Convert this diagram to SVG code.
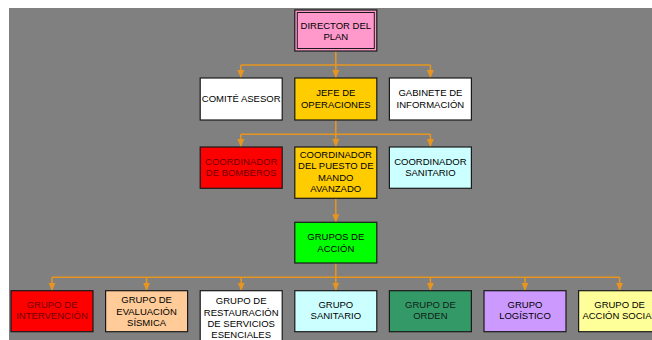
<svg xmlns="http://www.w3.org/2000/svg" width="652" height="340" viewBox="0 0 652 340">
<style>
.box{stroke:#1a1a1a;stroke-width:1.2}
.t{font-family:"Liberation Sans",Arial,sans-serif;font-size:9.5px;text-anchor:middle;fill:#000}
.c{fill:none;stroke:#E8951F;stroke-width:1.5}
</style>
<defs>
<marker id="ah" markerUnits="userSpaceOnUse" markerWidth="8" markerHeight="8" viewBox="0 0 8 8" refX="8" refY="4" orient="auto">
<path d="M0,0.5 L8,4 L0,7.5 Z" fill="#E8951F"/>
</marker>
</defs>
<rect x="0" y="0" width="652" height="340" fill="#fff"/>
<rect x="9" y="8" width="643" height="332" fill="#808080"/>

<g id="connectors">
<path class="c" d="M335.8,51 V65 M240.8,65 H430.4"/>
<path class="c" d="M240.8,65 V78" marker-end="url(#ah)"/>
<path class="c" d="M335.8,65 V78" marker-end="url(#ah)"/>
<path class="c" d="M430.4,65 V78" marker-end="url(#ah)"/>
<path class="c" d="M335.8,120 V134.3 M240.8,134.3 H430.4"/>
<path class="c" d="M240.8,134.3 V147" marker-end="url(#ah)"/>
<path class="c" d="M335.8,134.3 V147" marker-end="url(#ah)"/>
<path class="c" d="M430.4,134.3 V147" marker-end="url(#ah)"/>
<path class="c" d="M335.8,198.3 V222.3" marker-end="url(#ah)"/>
<path class="c" d="M335.8,263 V277.3 M52,277.3 H619.6"/>
<path class="c" d="M52,277.3 V290.7" marker-end="url(#ah)"/>
<path class="c" d="M146.6,277.3 V290.7" marker-end="url(#ah)"/>
<path class="c" d="M241.2,277.3 V290.7" marker-end="url(#ah)"/>
<path class="c" d="M335.8,277.3 V290.7" marker-end="url(#ah)"/>
<path class="c" d="M430.4,277.3 V290.7" marker-end="url(#ah)"/>
<path class="c" d="M525,277.3 V290.7" marker-end="url(#ah)"/>
<path class="c" d="M619.6,277.3 V290.7" marker-end="url(#ah)"/>
</g>

<g id="director">
<rect class="box" x="294.8" y="10" width="82" height="41" fill="#FF99CC"/>
<rect x="297.3" y="12.5" width="77" height="36" fill="none" stroke="#1a1a1a" stroke-width="1"/>
<text class="t" x="335.8" y="28.5">DIRECTOR DEL<tspan x="335.8" y="39.7">PLAN</tspan></text>
</g>

<g id="comite">
<rect class="box" x="200.2" y="78" width="82" height="42" fill="#fff"/>
<text class="t" x="241.2" y="102">COMITÉ ASESOR</text>
</g>
<g id="jefe">
<rect class="box" x="294.8" y="78" width="82" height="42" fill="#FFCC00"/>
<text class="t" x="335.8" y="96.2">JEFE DE<tspan x="335.8" y="107.5">OPERACIONES</tspan></text>
</g>
<g id="gabinete">
<rect class="box" x="389.4" y="78" width="82" height="42" fill="#fff"/>
<text class="t" x="430.4" y="96.2">GABINETE DE<tspan x="430.4" y="107.5">INFORMACIÓN</tspan></text>
</g>

<g id="bomberos">
<rect class="box" x="200.2" y="147" width="82" height="41.3" fill="#FF0000"/>
<text class="t" x="241.2" y="165" style="fill:#700000">COORDINADOR<tspan x="241.2" y="176.3">DE BOMBEROS</tspan></text>
</g>
<g id="puesto">
<rect class="box" x="294.8" y="147" width="82" height="51.3" fill="#FFCC00"/>
<text class="t" x="335.8" y="157.8">COORDINADOR<tspan x="335.8" y="169.3">DEL PUESTO DE</tspan><tspan x="335.8" y="180.8">MANDO</tspan><tspan x="335.8" y="192.3">AVANZADO</tspan></text>
</g>
<g id="sanitario">
<rect class="box" x="389.4" y="147" width="82" height="41.3" fill="#CCFFFF"/>
<text class="t" x="430.4" y="165">COORDINADOR<tspan x="430.4" y="176.3">SANITARIO</tspan></text>
</g>

<g id="grupos-accion">
<rect class="box" x="294.8" y="222.3" width="82" height="40.7" fill="#00FF00"/>
<text class="t" x="335.8" y="240">GRUPOS DE<tspan x="335.8" y="251.6">ACCIÓN</tspan></text>
</g>

<g id="intervencion">
<rect class="box" x="11" y="290.7" width="82" height="41" fill="#FF0000"/>
<text class="t" x="52" y="307.7" style="fill:#700000">GRUPO DE<tspan x="52" y="319.3">INTERVENCIÓN</tspan></text>
</g>
<g id="evaluacion">
<rect class="box" x="105.6" y="290.7" width="82" height="41" fill="#FFCC99"/>
<text class="t" x="146.6" y="303.4">GRUPO DE<tspan x="146.6" y="314.7">EVALUACIÓN</tspan><tspan x="146.6" y="326">SÍSMICA</tspan></text>
</g>
<g id="restauracion">
<rect class="box" x="200.2" y="290.7" width="82" height="55" fill="#fff"/>
<text class="t" x="241.2" y="304.4">GRUPO DE<tspan x="241.2" y="315.7">RESTAURACIÓN</tspan><tspan x="241.2" y="327">DE SERVICIOS</tspan><tspan x="241.2" y="338.3">ESENCIALES</tspan></text>
</g>
<g id="grupo-sanitario">
<rect class="box" x="294.8" y="290.7" width="82" height="41" fill="#CCFFFF"/>
<text class="t" x="335.8" y="307.7">GRUPO<tspan x="335.8" y="319.3">SANITARIO</tspan></text>
</g>
<g id="orden">
<rect class="box" x="389.4" y="290.7" width="82" height="41" fill="#339966"/>
<text class="t" x="430.4" y="307.7" style="fill:#102018">GRUPO DE<tspan x="430.4" y="319.3">ORDEN</tspan></text>
</g>
<g id="logistico">
<rect class="box" x="484" y="290.7" width="82" height="41" fill="#CC99FF"/>
<text class="t" x="525" y="307.7">GRUPO<tspan x="525" y="319.3">LOGÍSTICO</tspan></text>
</g>
<g id="accion-social">
<rect class="box" x="578.6" y="290.7" width="82" height="41" fill="#FFFF99"/>
<text class="t" x="619.6" y="307.7">GRUPO DE<tspan x="619.6" y="319.3">ACCIÓN SOCIAL</tspan></text>
</g>
</svg>
